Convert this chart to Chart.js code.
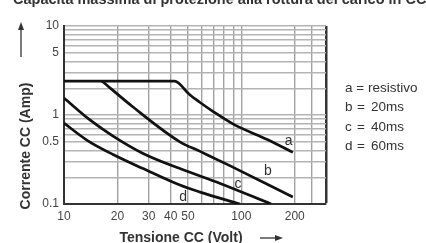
<!DOCTYPE html>
<html>
<head>
<meta charset="utf-8">
<script src="https://cdn.jsdelivr.net/npm/chart.js@4/dist/chart.umd.min.js"></script>
<style>
html,body{margin:0;padding:0;background:#fff;}
#wrap{width:426px;height:243px;position:relative;}
</style>
</head>
<body>
<div id="wrap"><canvas id="c" width="426" height="243"></canvas></div>
<script>
// ---- data ----
const titleText = "Capacità massima di protezione alla rottura del carico in CC";
const xTitle = "Tensione CC (Volt)";
const yTitle = "Corrente CC (Amp)";

const voltA = [10, 42, 51, 58, 70, 90, 140, 195];
const ampA  = [2.4, 2.4, 1.7, 1.4, 1.08, 0.79, 0.53, 0.38];

const voltB = [16.4, 24.5, 45, 58.5, 86, 195];
const ampB  = [2.4, 1.23, 0.50, 0.39, 0.27, 0.12];

const voltC = [10, 14, 18.9, 27.9, 45, 76, 147];
const ampC  = [1.55, 0.88, 0.58, 0.37, 0.25, 0.17, 0.10];

const voltD = [10, 13.5, 18.9, 27.9, 45, 58.5, 98];
const ampD  = [0.81, 0.52, 0.36, 0.25, 0.163, 0.136, 0.10];

const xGridValues = [10, 20, 30, 40, 50, 60, 70, 80, 90, 100, 200, 250, 300];
const xTickLabels = [10, 20, 30, 40, 50, 100, 200];
const yGridValues = [0.1, 0.2, 0.3, 0.4, 0.5, 0.6, 0.7, 0.8, 0.9, 1, 2, 3, 4, 5, 6, 7, 8, 9, 10];
const yTickLabels = [0.1, 0.5, 1, 5, 10];

const curveNames = ["a", "b", "c", "d"];
const legendKeys = ["a", "b", "c", "d"];
const legendValues = ["resistivo", "20ms", "40ms", "60ms"];

// ---- build ----
const toPts = (xs, ys) => xs.map((v, i) => ({x: v, y: ys[i]}));
const series = [toPts(voltA, ampA), toPts(voltB, ampB), toPts(voltC, ampC), toPts(voltD, ampD)];

const FONT = '"Liberation Sans", Arial, Helvetica, sans-serif';
Chart.defaults.font.family = FONT;

const near = (v, list) => list.some(t => Math.abs(t - v) / t < 1e-6);

const annot = {
  id: 'annot',
  afterDraw(chart, args, opts) {
    const ctx = chart.ctx;
    const xs = chart.scales.x, ys = chart.scales.y;
    ctx.save();
    ctx.fillStyle = '#333';
    ctx.strokeStyle = '#222';
    // title (cut by top edge as in reference)
    ctx.font = 'bold 14.5px ' + FONT;
    ctx.textAlign = 'left';
    ctx.textBaseline = 'alphabetic';
    ctx.fillText(titleText, 13, 4);

    // axis titles
    ctx.font = 'bold 14px ' + FONT;
    ctx.textAlign = 'center';
    ctx.textBaseline = 'middle';
    ctx.fillText(xTitle, 181, 238);
    ctx.save();
    ctx.translate(26, 146);
    ctx.rotate(-Math.PI / 2);
    ctx.fillText(yTitle, 0, 0);
    ctx.restore();

    // arrows
    ctx.lineWidth = 1.2;
    ctx.beginPath(); ctx.moveTo(21, 57); ctx.lineTo(21, 28); ctx.stroke();
    ctx.beginPath(); ctx.moveTo(21, 22); ctx.lineTo(18, 30); ctx.lineTo(24, 30); ctx.closePath(); ctx.fill();
    ctx.beginPath(); ctx.moveTo(260, 238); ctx.lineTo(277, 238); ctx.stroke();
    ctx.beginPath(); ctx.moveTo(283, 238); ctx.lineTo(275, 235); ctx.lineTo(275, 241); ctx.closePath(); ctx.fill();

    // curve labels
    ctx.font = '14px ' + FONT;
    ctx.fillStyle = '#333';
    opts.labels.forEach((l, i) => {
      ctx.fillText(curveNames[i], xs.getPixelForValue(l[0]), ys.getPixelForValue(l[1]));
    });

    // legend text
    ctx.font = '13.5px ' + FONT;
    ctx.textAlign = 'left';
    const rows = [88, 107, 127, 146];
    legendKeys.forEach((k, i) => {
      if (i === 0) {
        ctx.fillText(k + ' = ' + legendValues[i], 345, rows[i]);
      } else {
        ctx.fillText(k, 345, rows[i]);
        ctx.fillText('=', 357, rows[i]);
        ctx.fillText(legendValues[i], 371, rows[i]);
      }
    });
    ctx.restore();
  }
};

new Chart(document.getElementById('c'), {
  type: 'scatter',
  data: {
    datasets: series.map((s, i) => ({
      label: curveNames[i],
      data: s,
      showLine: true,
      borderColor: '#111',
      borderWidth: 2.7,
      pointRadius: 0,
      pointHoverRadius: 0,
      cubicInterpolationMode: 'monotone',
      fill: false
    }))
  },
  options: {
    responsive: false,
    animation: false,
    devicePixelRatio: 1,
    layout: {padding: {left: 0, right: 100, top: 26, bottom: 0}},
    plugins: {
      legend: {display: false},
      tooltip: {enabled: false},
      annot: {labels: [[185, 0.51], [141, 0.235], [95.7, 0.168], [46.9, 0.12]]}
    },
    scales: {
      x: {
        type: 'logarithmic',
        min: 10, max: 300,
        afterBuildTicks: s => { s.ticks = xGridValues.map(v => ({value: v})); },
        afterFit: s => { s.height = 39; },
        ticks: {
          autoSkip: false, maxRotation: 0, padding: 5,
          color: '#444', font: {size: 12},
          callback: v => near(v, xTickLabels) ? String(v) : ''
        },
        grid: {
          drawTicks: false,
          color: c => (c.tick && c.tick.value === 300) ? '#333' : '#a2a2a2',
          lineWidth: c => (c.tick && c.tick.value === 300) ? 2.5 : 1.4
        },
        border: {color: '#333', width: 2}
      },
      y: {
        type: 'logarithmic',
        min: 0.1, max: 10,
        afterBuildTicks: s => { s.ticks = yGridValues.map(v => ({value: v})); },
        afterFit: s => { s.width = 64; },
        ticks: {
          autoSkip: false, padding: 5,
          color: '#444', font: {size: 12},
          callback: v => near(v, yTickLabels) ? String(v) : ''
        },
        grid: {
          drawTicks: false,
          color: '#b4b4b4',
          lineWidth: 1.4
        },
        border: {color: '#333', width: 2}
      }
    }
  },
  plugins: [annot]
});
</script>
</body>
</html>
